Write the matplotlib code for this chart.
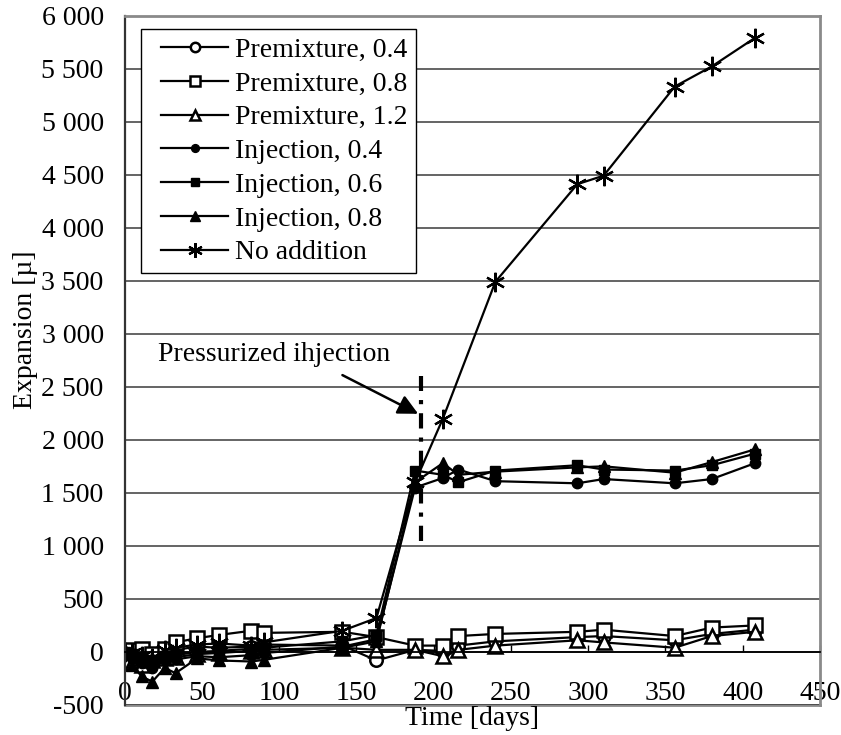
import matplotlib
matplotlib.use("Agg")
import matplotlib.pyplot as plt
from matplotlib.patches import Rectangle
from matplotlib.ticker import FuncFormatter, MultipleLocator

plt.rcParams['font.family'] = ['Liberation Serif', 'DejaVu Serif']
plt.rcParams['axes.unicode_minus'] = False
plt.rcParams['lines.scale_dashes'] = False

# ---------------- data ----------------
days = [0, 5, 11, 18, 26, 33, 47, 61, 82, 90, 141, 163, 188, 206, 216, 240, 293, 310, 356, 380, 408]
premix_04 = [0, 10, -20, -60, -10, 20, 50, 40, 50, 70, 60, -80, 20, 10, 60, 100, 140, 150, 110, 170, 210]
premix_08 = [0, 20, 30, -20, 30, 90, 130, 160, 200, 180, 190, 140, 60, 60, 150, 170, 190, 210, 150, 230, 250]
premix_12 = [0, -100, -120, -80, -60, -50, -20, -10, 10, 20, 40, 20, 20, -40, 20, 60, 110, 90, 40, 150, 190]
inj_04 = [0, -60, -100, -150, -80, -70, -40, -50, -30, -10, 50, 120, 1550, 1640, 1720, 1610, 1590, 1630, 1590, 1630, 1780]
inj_06 = [0, -20, -50, -80, -40, -30, 0, 10, 30, 40, 100, 160, 1710, 1670, 1600, 1710, 1760, 1720, 1710, 1760, 1870]
inj_08 = [0, -120, -230, -280, -150, -200, -60, -80, -90, -75, 40, 100, 1600, 1780, 1670, 1700, 1740, 1750, 1690, 1790, 1910]
no_add_days = [0, 5, 11, 18, 26, 33, 47, 61, 82, 90, 141, 163, 188, 206, 240, 293, 310, 356, 380, 408]
no_add = [0, -10, -40, -60, 20, 40, 70, 80, 60, 90, 200, 320, 1600, 2200, 3490, 4410, 4490, 5330, 5520, 5790]

labels = ["Premixture, 0.4", "Premixture, 0.8", "Premixture, 1.2",
          "Injection, 0.4", "Injection, 0.6", "Injection, 0.8", "No addition"]

injection_day = 192
injection_span = [1050, 2600]
annot_text = "Pressurized ihjection"
annot_text_pos = (97, 2800)
annot_start = (141, 2610)
annot_tip = (190, 2245)

# ---------------- figure ----------------
W, H = 841, 735
fig = plt.figure(figsize=(W / 100, H / 100), dpi=100)
ax = fig.add_axes([124.5 / W, 1 - 705 / H, (820 - 124.5) / W, (705 - 15.5) / H])

FS = 20
lw = 1.6
asterisk = (6, 2, 0)

ax.plot(days, premix_04, color='black', lw=lw, marker='o', ms=9, mfc='white', mec='black', mew=1.8, label=labels[0])
ax.plot(days, premix_08, color='black', lw=lw, marker='s', ms=9.5, mfc='white', mec='black', mew=1.8, label=labels[1])
ax.plot(days, premix_12, color='black', lw=lw, marker='^', ms=10, mfc='white', mec='black', mew=1.8, label=labels[2])
ax.plot(days, inj_04, color='black', lw=lw, marker='o', ms=7.5, mfc='black', mec='black', label=labels[3])
ax.plot(days, inj_06, color='black', lw=lw, marker='s', ms=7.5, mfc='black', mec='black', label=labels[4])
ax.plot(days, inj_08, color='black', lw=lw, marker='^', ms=9, mfc='black', mec='black', label=labels[5])
ax.plot(no_add_days, no_add, color='black', lw=lw, marker=asterisk, ms=14, mec='black', mew=1.6, label=labels[6])

# injection marker line
ax.plot([injection_day, injection_day], injection_span, color='black', lw=3,
        linestyle=(0, (11, 6.5, 3, 6.5)), dash_capstyle='butt', zorder=5)

ax.annotate("", xy=annot_tip, xytext=annot_start,
            arrowprops=dict(arrowstyle='-|>', color='black', lw=1.8, mutation_scale=30,
                            shrinkA=0, shrinkB=0))
ax.text(annot_text_pos[0], annot_text_pos[1], annot_text, fontsize=FS, ha='center', va='center')

# axes
ax.set_xlim(0, 450)
ax.set_ylim(-500, 6000)
ax.xaxis.set_major_locator(MultipleLocator(50))
ax.yaxis.set_major_locator(MultipleLocator(500))
ax.yaxis.set_major_formatter(FuncFormatter(lambda v, p: f"{int(round(v)):,}".replace(",", " ")))

ax.grid(axis='y', color='#3a3a3a', lw=1.1)
ax.set_axisbelow(True)

ax.spines['bottom'].set_position(('data', 0))
ax.spines['bottom'].set_color('black')
ax.spines['bottom'].set_linewidth(1.3)
ax.spines['left'].set_color('#333333')
ax.spines['left'].set_linewidth(1.6)
for s in ['top', 'right']:
    ax.spines[s].set_color('#8a8a8a')
    ax.spines[s].set_linewidth(2)
ax.axhline(-500, color='#8a8a8a', lw=2, clip_on=False, zorder=0.5)

ax.tick_params(axis='x', direction='in', length=5, width=1, pad=21, labelsize=FS)
ax.tick_params(axis='y', length=0, pad=15, labelsize=FS)

ax.set_xlabel("Time [days]", fontsize=FS)
ax.xaxis.set_label_coords(0.5, -0.002)
ax.set_ylabel("Expansion [\u00b5]", fontsize=FS)
ax.yaxis.set_label_coords(-0.124, 0.544)

# legend: frame drawn separately so its padding matches the original
frame = Rectangle((141 / W, 1 - 273 / H), 275 / W, 244 / H, transform=fig.transFigure,
                  facecolor='white', edgecolor='black', lw=1.0, zorder=4.8, clip_on=False)
ax.add_patch(frame)
leg = ax.legend(loc='upper left', bbox_to_anchor=((16.5 + 12) / 695.5, 1 - 13.5 / 689.5),
                borderaxespad=0, fontsize=FS, frameon=False,
                handlelength=2.4, handletextpad=0.25,
                labelspacing=0.3, borderpad=0.3, markerscale=0.75)
leg.set_zorder(5)

fig.savefig("out.png", dpi=100)
